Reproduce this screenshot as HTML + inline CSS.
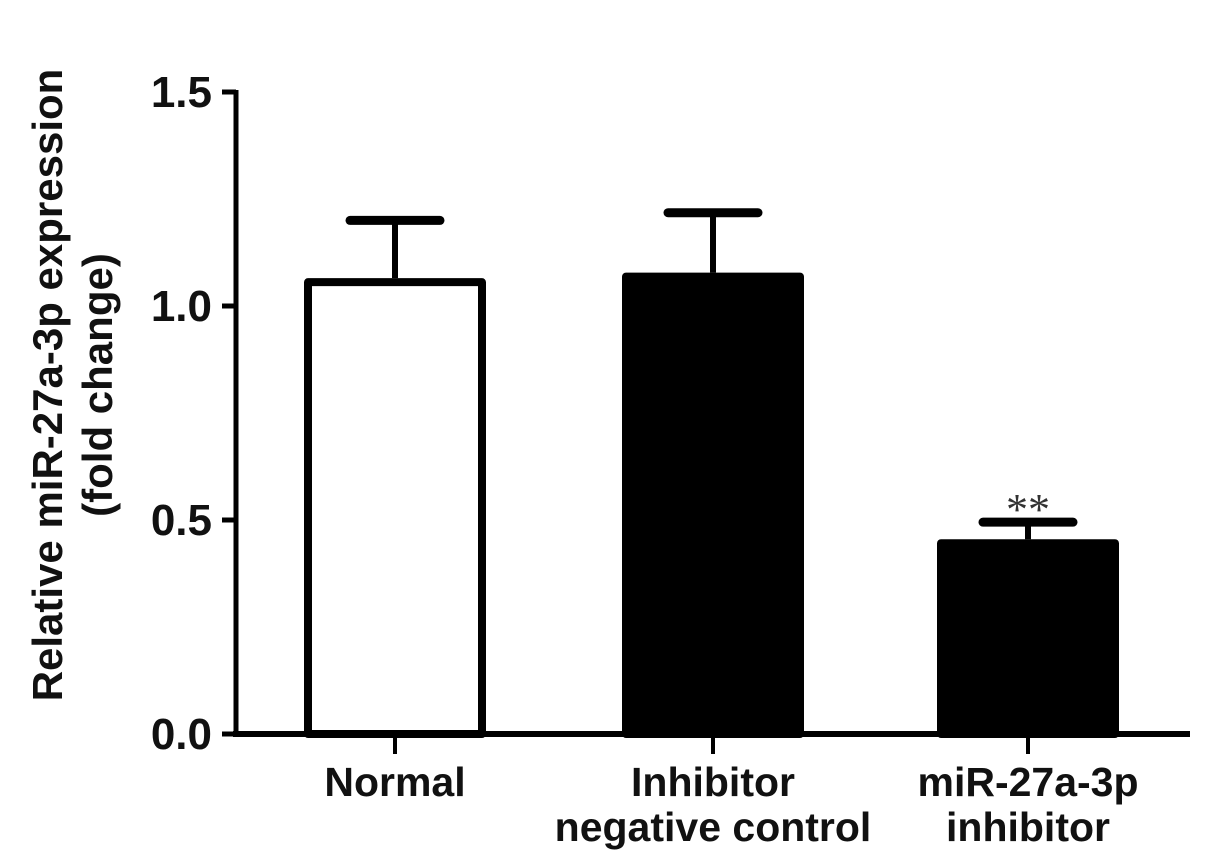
<!DOCTYPE html>
<html><head><meta charset="utf-8"><style>
html,body{margin:0;padding:0;background:#fff;}
svg{display:block;font-family:"Liberation Sans",Arial,sans-serif;}
</style></head><body>
<svg id="chart" width="1205" height="855" viewBox="0 0 1205 855"></svg>
<script>
const categories = [["Normal"], ["Inhibitor","negative control"], ["miR-27a-3p","inhibitor"]];
const values = [1.065, 1.078, 0.455];
const errors = [0.135, 0.14, 0.04];
const fills = ["#fff", "#000", "#000"];
const tickValues = [0, 0.5, 1.0, 1.5];
const tickLabels = ["0.0", "0.5", "1.0", "1.5"];
const sigLabels = ["", "", "**"];

const NS = "http://www.w3.org/2000/svg";
const svg = document.getElementById("chart");
const y0 = 734, yTop = 92, xAxisL = 236, xAxisR = 1190;
const centers = [395, 713, 1028];
const barW = 182;
function yScale(v){ return y0 - (v/1.5)*(y0-yTop); }
function xScale(i){ return centers[i]; }
function el(tag, attrs, text){
  const e = document.createElementNS(NS, tag);
  for (const k in attrs) e.setAttribute(k, attrs[k]);
  if (text !== undefined) e.textContent = text;
  svg.appendChild(e);
  return e;
}

values.forEach((v,i)=>{
  const x = xScale(i) - barW/2, top = yScale(v);
  const r = el("rect",{x:x+4,y:top+4,width:barW-8,height:y0-top-4,fill:fills[i],stroke:"#000","stroke-width":8,"stroke-linejoin":"round"});
  
  
  const et = yScale(v+errors[i]);
  const ev = el("line",{x1:xScale(i),x2:xScale(i),y1:top,y2:et,stroke:"#000","stroke-width":6});
  
  
  const ec = el("line",{x1:xScale(i)-45,x2:xScale(i)+45,y1:et,y2:et,stroke:"#000","stroke-width":9,"stroke-linecap":"round"});
  
  
  if (sigLabels[i]) {
    const s = el("text",{x:xScale(i),y:et+2,"text-anchor":"middle","font-size":44,fill:"#333","font-family":"Liberation Serif, serif"},sigLabels[i]);
    
    
  }
});

const ya = el("line",{x1:xAxisL,x2:xAxisL,y1:yTop-2,y2:y0+2,stroke:"#000","stroke-width":5});


const xa = el("line",{x1:xAxisL-3,x2:xAxisR,y1:y0,y2:y0,stroke:"#000","stroke-width":6});



tickValues.forEach((t,i)=>{
  const y = yScale(t);
  const tk = el("line",{x1:xAxisL-14,x2:xAxisL,y1:y,y2:y,stroke:"#000","stroke-width":5});
  
  
  const lb = el("text",{x:212,y:y+15,"text-anchor":"end","font-size":44,"font-weight":"bold",fill:"#111"},tickLabels[i]);
  
  
});

categories.forEach((lines,i)=>{
  const tk = el("line",{x1:xScale(i),x2:xScale(i),y1:y0,y2:y0+20,stroke:"#000","stroke-width":4});
  
  
  lines.forEach((ln,j)=>{
    const t = el("text",{x:xScale(i),y:796+j*45,"text-anchor":"middle","font-size":41,"font-weight":"bold",fill:"#111"},ln);
    
    
  });
});

const yt1 = el("text",{x:0,y:0,"text-anchor":"middle","font-size":42,"font-weight":"bold",fill:"#111",transform:"translate(62,385) rotate(-90)"},"Relative miR-27a-3p expression");


const yt2 = el("text",{x:0,y:0,"text-anchor":"middle","font-size":42,"font-weight":"bold",fill:"#111",transform:"translate(112,385) rotate(-90)"},"(fold change)");


</script>
</body></html>
